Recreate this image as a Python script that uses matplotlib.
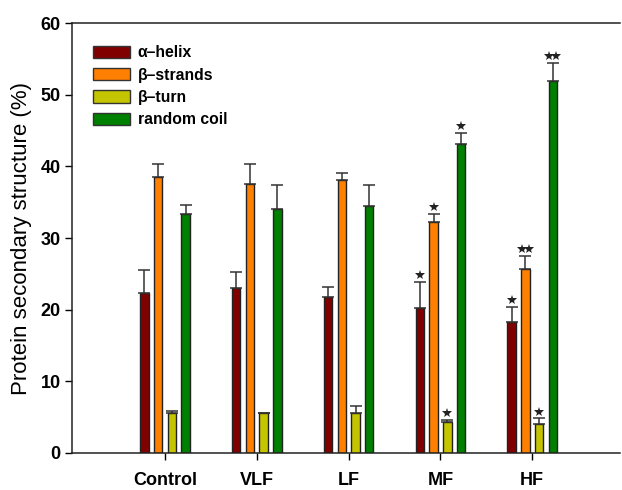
import matplotlib
matplotlib.use('Agg')
import matplotlib.pyplot as plt
from matplotlib.patches import Patch
import numpy as np

plt.rcParams['font.family'] = ['Liberation Sans', 'DejaVu Sans']

categories = ['Control', 'VLF', 'LF', 'MF', 'HF']
series_names = ['α–helix', 'β–strands', 'β–turn', 'random coil']

helix = [22.3, 23.0, 21.7, 20.2, 18.2]
helix_err = [3.3, 2.2, 1.4, 3.7, 2.2]
helix_sig = ['', '', '', '*', '*']

strands = [38.5, 37.5, 38.1, 32.2, 25.7]
strands_err = [1.9, 2.9, 1.0, 1.2, 1.8]
strands_sig = ['', '', '', '*', '**']

turn = [5.6, 5.5, 5.6, 4.25, 4.05]
turn_err = [0.2, 0.1, 0.9, 0.35, 0.8]
turn_sig = ['', '', '', '*', '*']

coil = [33.4, 34.0, 34.5, 43.2, 51.9]
coil_err = [1.2, 3.4, 2.9, 1.5, 2.6]
coil_sig = ['', '', '', '*', '**']

colors = ['#800000', '#FF8000', '#C4C400', '#008000']

fig = plt.figure(figsize=(6.22, 4.9), dpi=100)
ax = fig.add_axes([0.1153, 0.0761, 0.8815, 0.8763])

x = np.arange(len(categories))
width = 0.092
offsets = [-0.225, -0.075, 0.075, 0.225]
all_vals = [helix, strands, turn, coil]
all_errs = [helix_err, strands_err, turn_err, coil_err]
all_sigs = [helix_sig, strands_sig, turn_sig, coil_sig]

for vals, errs, sigs, off, c in zip(all_vals, all_errs, all_sigs, offsets, colors):
    xs = x + off
    ax.bar(xs, vals, width, color=c, edgecolor='#222222', linewidth=1.0, zorder=2)
    ax.errorbar(xs, vals, yerr=[np.zeros(len(vals)), errs], fmt='none',
                ecolor='#333333', elinewidth=1.1, capsize=4.3, capthick=1.1, zorder=3)
    # significance stars above the caps
    for xi, v, e, s in zip(xs, vals, errs, sigs):
        if not s:
            continue
        n = len(s)
        sx = xi + (np.arange(n) - (n - 1) / 2) * 0.078
        ax.plot(sx, [v + e + 0.9] * n, linestyle='none', marker='*',
                markersize=7, color='#222222', markeredgewidth=0, zorder=4)

ax.set_xlim(-1.016, 4.956)
ax.set_ylim(0, 60)
ax.set_yticks(range(0, 61, 10))
ax.set_xticks(x)
ax.set_xticklabels(categories, fontsize=13, fontweight='bold')
for lab in ax.get_yticklabels():
    lab.set_fontsize(13)
    lab.set_fontweight('bold')
ax.tick_params(axis='x', length=5, pad=9, width=1)
ax.tick_params(axis='y', length=5, pad=3, width=1)

ax.spines['right'].set_visible(False)
for sp in ['left', 'bottom', 'top']:
    ax.spines[sp].set_linewidth(1.1)
    ax.spines[sp].set_color('#222222')

ax.set_ylabel('Protein secondary structure (%)', fontsize=16)
ax.yaxis.set_label_coords(-0.073, 0.5)

handles = [Patch(facecolor=c, edgecolor='#333333', linewidth=1.0) for c in colors]
ax.legend(handles, series_names, loc='upper left', bbox_to_anchor=(0.039, 0.949),
          frameon=False, borderpad=0, borderaxespad=0, handlelength=2.35,
          handleheight=0.85, handletextpad=0.5, labelspacing=0.47,
          prop={'size': 11.3, 'weight': 'bold'})

fig.savefig('out.png', dpi=100)
